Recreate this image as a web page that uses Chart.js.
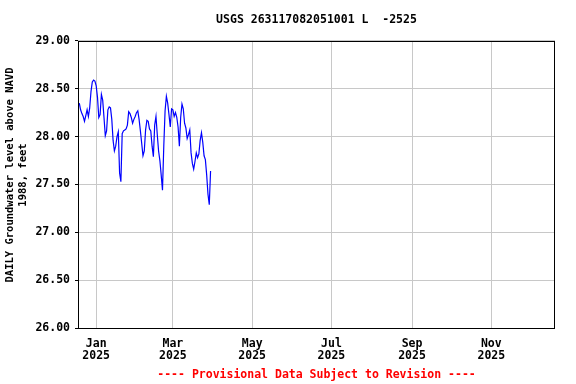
<!DOCTYPE html>
<html>
<head>
<meta charset="utf-8">
<script src="https://cdn.jsdelivr.net/npm/chart.js@4/dist/chart.umd.min.js"></script>
<style>
  html, body { margin: 0; padding: 0; background: #fff; }
</style>
</head>
<body>
<canvas id="chart" width="576" height="384"></canvas>
<script>
// Chart text
const siteTitle = 'USGS 263117082051001 L  -2525';
const yAxisTitle = ['   DAILY Groundwater level above NAVD', '   1988, feet'];
const footerText = '---- Provisional Data Subject to Revision ----';

// Daily values, first one is 13 days before Jan 1 2025 (x axis is days from Jan 1 2025)
const firstDay = -13;
const levels = [
    28.35, 28.28, 28.24, 28.21, 28.16, 28.22, 28.28, 28.21, 28.30, 28.47,
    28.57, 28.59, 28.58, 28.53, 28.41, 28.20, 28.23, 28.44, 28.38, 28.20,
    28.01, 28.06, 28.28, 28.31, 28.30, 28.18, 27.96, 27.85, 27.90, 28.00,
    28.05, 27.62, 27.53, 28.03, 28.06, 28.07, 28.08, 28.12, 28.26, 28.24,
    28.20, 28.14, 28.18, 28.21, 28.25, 28.27, 28.18, 28.06, 27.93, 27.80,
    27.85, 28.07, 28.17, 28.16, 28.08, 28.06, 27.90, 27.79, 28.12, 28.21,
    28.02, 27.85, 27.75, 27.60, 27.44, 27.90, 28.27, 28.42, 28.35, 28.23,
    28.10, 28.29, 28.28, 28.21, 28.25, 28.20, 28.10, 27.90, 28.20, 28.34,
    28.29, 28.14, 28.09, 27.98, 28.02, 28.07, 27.83, 27.72, 27.66, 27.74,
    27.83, 27.78, 27.82, 27.96, 28.04, 27.94, 27.80, 27.76, 27.60, 27.40,
    27.29, 27.64
];

// X axis: days from Jan 1 2025
const xMin = -14;
const xMax = 353;
const tickDays = [0, 59, 120, 181, 243, 304];
const tickMonths = ['Jan', 'Mar', 'May', 'Jul', 'Sep', 'Nov'];
const tickYears = ['2025', '2025', '2025', '2025', '2025', '2025'];

// Y axis
const yMin = 26;
const yMax = 29;
const yStep = 0.5;

const FONT = "'DejaVu Sans Mono', monospace";

// black frame round the plot area
const frame = {
    id: 'frame',
    afterDatasetsDraw(chart) {
        const a = chart.chartArea;
        const ctx = chart.ctx;
        ctx.save();
        ctx.strokeStyle = '#000';
        ctx.lineWidth = 1;
        ctx.strokeRect(Math.round(a.left) + 0.5, Math.round(a.top) + 0.5,
            Math.round(a.right - a.left) - 1, Math.round(a.bottom - a.top));
        ctx.restore();
    }
};

const points = levels.map((v, i) => ({ x: firstDay + i, y: v }));

new Chart(document.getElementById('chart'), {
    type: 'line',
    data: {
        datasets: [{
            data: points,
            borderColor: '#0000ff',
            borderWidth: 1.2,
            pointRadius: 0,
            tension: 0,
            fill: false
        }]
    },
    options: {
        responsive: false,
        animation: false,
        layout: { padding: { left: 0, right: 21, top: 0, bottom: 0 } },
        plugins: {
            legend: { display: false },
            tooltip: { enabled: false },
            title: {
                display: true,
                fullSize: false,
                text: siteTitle,
                color: '#000',
                font: { family: FONT, size: 11.5, weight: 'bold', lineHeight: 1.2 },
                padding: { top: 13, bottom: 14 }
            },
            subtitle: {
                display: true,
                fullSize: false,
                position: 'bottom',
                text: footerText,
                color: '#ff0000',
                font: { family: FONT, size: 11.5, weight: 'bold', lineHeight: 1.2 },
                padding: { top: 4, bottom: 2 }
            }
        },
        scales: {
            x: {
                type: 'linear',
                min: xMin,
                max: xMax,
                afterBuildTicks: (scale) => {
                    scale.ticks = tickDays.map(d => ({ value: d }));
                },
                afterFit: (scale) => { scale.height = 36; },
                ticks: {
                    autoSkip: false,
                    maxRotation: 0,
                    color: '#000',
                    padding: 9,
                    font: { family: FONT, size: 11.5, weight: 'bold', lineHeight: 1.1 },
                    callback: (v, i) => [tickMonths[i], tickYears[i]]
                },
                grid: { color: '#c8c8c8', drawTicks: false },
                border: { display: false }
            },
            y: {
                min: yMin,
                max: yMax,
                afterFit: (scale) => { scale.width = 78; },
                ticks: {
                    stepSize: yStep,
                    color: '#000',
                    padding: 5,
                    font: { family: FONT, size: 11.5, weight: 'bold' },
                    callback: v => v.toFixed(2)
                },
                grid: { color: '#c8c8c8', tickColor: '#000', tickLength: 3 },
                border: { display: false },
                title: {
                    display: true,
                    text: yAxisTitle,
                    color: '#000',
                    font: { family: FONT, size: 10.5, weight: 'bold', lineHeight: 1.2 },
                    padding: { top: 4, bottom: 0 }
                }
            }
        }
    },
    plugins: [frame]
});
</script>
</body>
</html>
